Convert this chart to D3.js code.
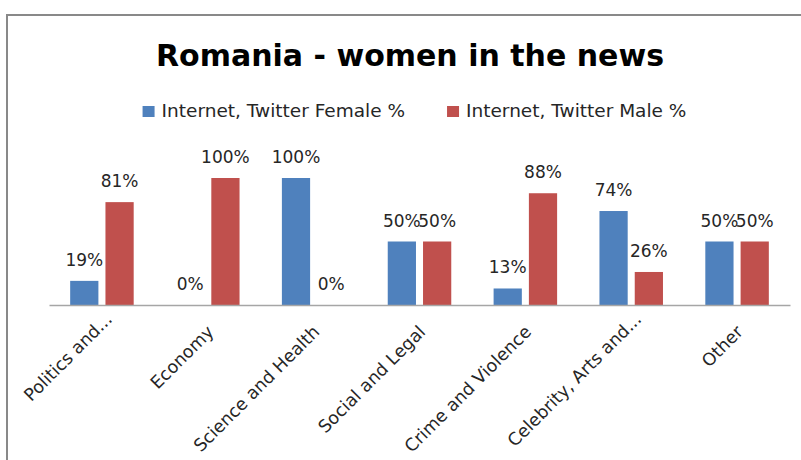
<!DOCTYPE html>
<html>
<head>
<meta charset="utf-8">
<script src="https://cdn.jsdelivr.net/npm/d3@7/dist/d3.min.js"></script>
<style>
  html, body { margin: 0; padding: 0; background: #fff; }
  svg { display: block; font-family: "DejaVu Sans", sans-serif; }
</style>
</head>
<body>
<svg id="chart" width="801" height="460"></svg>
<script>
// Share of news subjects by gender, Internet / Twitter, Romania
const categories = ["Politics and...", "Economy", "Science and Health", "Social and Legal",
                    "Crime and Violence", "Celebrity, Arts and...", "Other"];
const seriesNames = ["Internet, Twitter Female %", "Internet, Twitter Male %"];
const femaleValues = [19, 0, 100, 50, 13, 74, 50];
const maleValues = [81, 100, 0, 50, 88, 26, 50];
const seriesColors = ["#4F81BD", "#C0504D"];
const chartTitle = "Romania - women in the news";

const seriesValues = [femaleValues, maleValues];
const W = 801, H = 460;
const plot = { left: 49, right: 790, top: 178, bottom: 305 };

const svg = d3.select("#chart");
svg.append("rect").attr("width", W).attr("height", H).attr("fill", "#fff");

// chart frame (continues past the right and bottom edges)
svg.append("rect")
  .attr("x", 7).attr("y", 15).attr("width", W + 20).attr("height", H + 20)
  .attr("fill", "none").attr("stroke", "#898989").attr("stroke-width", 2);

// title
svg.append("text")
  .attr("x", 410).attr("y", 66)
  .attr("text-anchor", "middle")
  .attr("font-size", 30).attr("font-weight", "bold").attr("fill", "#000")
  .text(chartTitle);

// scales
const x = d3.scaleBand().domain(categories).range([plot.left, plot.right])
  .paddingInner(0).paddingOuter(0);
const x1 = d3.scaleBand().domain(d3.range(seriesNames.length)).range([0, x.bandwidth()])
  .paddingInner(0.2).paddingOuter(0.6);
const y = d3.scaleLinear().domain([0, 100]).range([plot.bottom, plot.top]);

// bars and value labels
const groups = svg.append("g").selectAll("g")
  .data(categories).join("g")
  .attr("transform", d => `translate(${x(d)},0)`);

groups.selectAll("rect")
  .data((d, i) => seriesValues.map((vals, s) => ({ s, v: vals[i] })))
  .join("rect")
  .attr("x", d => x1(d.s))
  .attr("width", x1.bandwidth())
  .attr("y", d => y(d.v))
  .attr("height", d => y(0) - y(d.v))
  .attr("fill", d => seriesColors[d.s]);

groups.selectAll("text")
  .data((d, i) => seriesValues.map((vals, s) => ({ s, v: vals[i] })))
  .join("text")
  .attr("x", d => x1(d.s) + x1.bandwidth() / 2)
  .attr("y", d => y(d.v) - 15)
  .attr("text-anchor", "middle")
  .attr("font-size", 17).attr("fill", "#262626")
  .text(d => d.v + "%");

// category axis with labels slanted at 45 degrees
const axis = svg.append("g")
  .attr("transform", `translate(0,${plot.bottom})`)
  .call(d3.axisBottom(x).tickSize(0).tickPadding(0));
axis.select(".domain").attr("stroke", "#A6A6A6").attr("stroke-width", 1.5);
axis.selectAll(".tick text")
  .attr("font-family", "DejaVu Sans, sans-serif")
  .attr("font-size", 17.5).attr("fill", "#262626")
  .attr("text-anchor", "end")
  .attr("dy", 0)
  // shortened labels (ending in an ellipsis) sit a little further out
  .attr("x", d => d.endsWith("...") ? 12 : 0)
  .attr("y", d => d.endsWith("...") ? -6 : 0)
  .attr("transform", "translate(7,28) rotate(-45)");

// legend
const legend = svg.append("g");
let lx = 0;
seriesNames.forEach((name, i) => {
  const item = legend.append("g").attr("transform", `translate(${lx},0)`);
  item.append("rect").attr("x", 0).attr("y", 106).attr("width", 12).attr("height", 11)
    .attr("fill", seriesColors[i]);
  const t = item.append("text").attr("x", 19).attr("y", 117)
    .attr("font-size", 18.5).attr("fill", "#262626").text(name);
  lx += 19 + t.node().getComputedTextLength() + 42;
});
const legendWidth = lx - 42;
legend.attr("transform", `translate(${414.5 - legendWidth / 2},0)`);
</script>
</body>
</html>
